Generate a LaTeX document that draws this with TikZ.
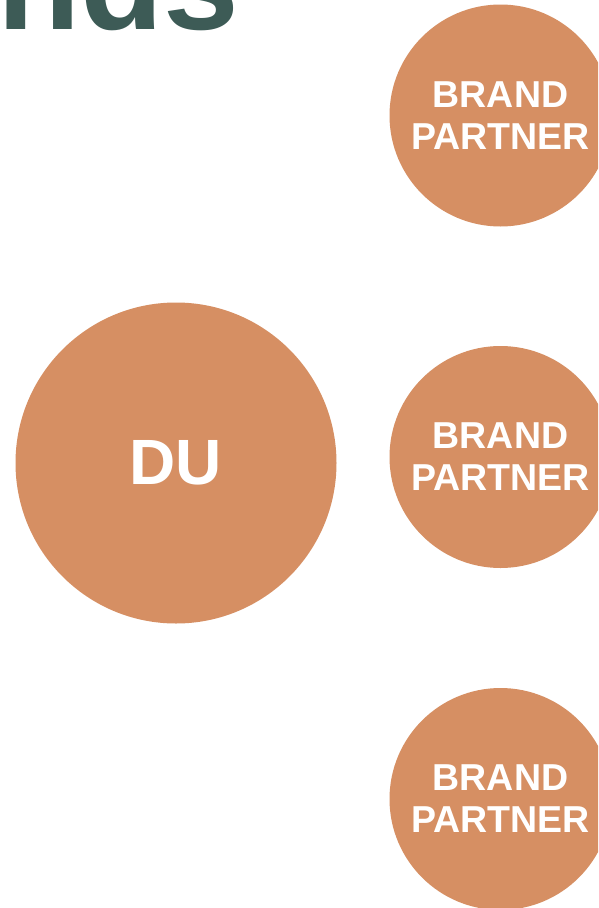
\documentclass[tikz,border=0pt]{standalone}
\usepackage{fontspec}
\setmainfont{Liberation Sans}
\definecolor{duorange}{HTML}{D68F63}
\definecolor{titlegreen}{HTML}{3D5B56}
\tikzset{
  partner/.style={circle, fill=duorange, minimum size=222pt, inner sep=0pt, text=white, font=\bfseries\fontsize{37.5}{42}\selectfont, align=center},
  bigcircle/.style={circle, fill=duorange, minimum size=321pt, inner sep=0pt, text=white, font=\bfseries\fontsize{64}{70}\selectfont},
}
\begin{document}
\begin{tikzpicture}[x=1pt,y=-1pt]
\useasboundingbox (0,0) rectangle (598,908);
\clip (0,0) rectangle (598,908);
\fill[white] (0,0) rectangle (598,908);
\node[anchor=base west, inner sep=0pt, text=titlegreen, font=\bfseries\fontsize{136}{140}\selectfont] (title) at (-3,29) {nds};
\node[bigcircle] (du) at (176,463) {DU};
\node[partner] (p1) at (500.5,115.5) {BRAND\\PARTNER};
\node[partner] (p2) at (500.5,457) {BRAND\\PARTNER};
\node[partner] (p3) at (500.5,799) {BRAND\\PARTNER};
\end{tikzpicture}
\end{document}
